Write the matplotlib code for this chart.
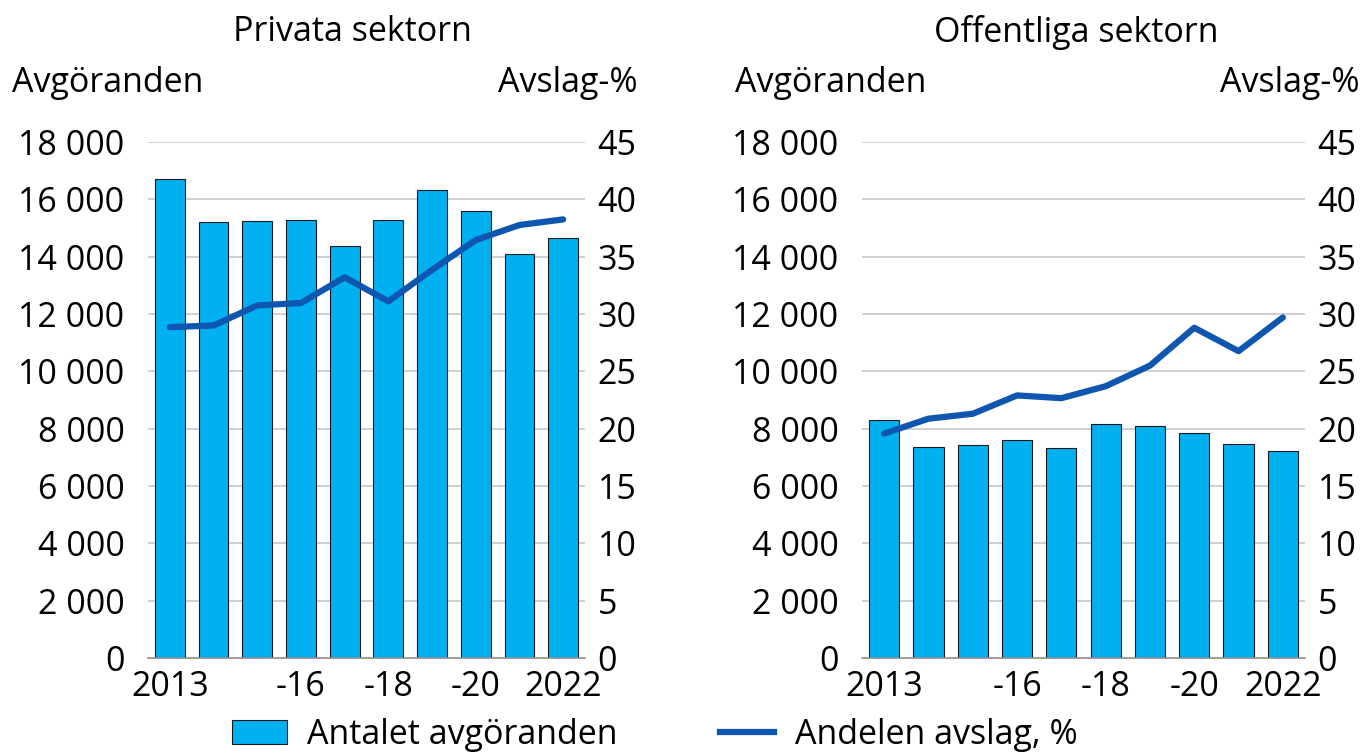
import matplotlib
matplotlib.use("Agg")
import matplotlib.pyplot as plt
from matplotlib.patches import Patch
from matplotlib.lines import Line2D
from matplotlib import font_manager

years = [2013, 2014, 2015, 2016, 2017, 2018, 2019, 2020, 2021, 2022]
xlabels = ["2013", "", "", "-16", "", "-18", "", "-20", "", "2022"]

priv_count = [16700, 15210, 15250, 15290, 14360, 15290, 16310, 15590, 14110, 14650]
priv_share = [28.85, 29.0, 30.75, 30.96, 33.2, 31.1, 33.85, 36.45, 37.76, 38.25]

off_count = [8290, 7365, 7420, 7595, 7330, 8170, 8080, 7860, 7480, 7215]
off_share = [19.57, 20.87, 21.3, 22.9, 22.66, 23.7, 25.5, 28.8, 26.76, 29.7]

left_ticks = [0, 2000, 4000, 6000, 8000, 10000, 12000, 14000, 16000, 18000]
right_ticks = [0, 5, 10, 15, 20, 25, 30, 35, 40, 45]

avail = {f.name for f in font_manager.fontManager.ttflist}
fam = [f for f in ["Open Sans", "DejaVu Sans"] if f in avail]
plt.rcParams["font.family"] = fam

BAR = "#00B0F0"
LINE = "#0E56B0"
FS = 24.5

fig = plt.figure(figsize=(13.64, 7.54), dpi=100)

def fmt(v):
    return f"{v:,}".replace(",", " ")

def panel(left, width, counts, shares, title, title_x, lpad):
    ax = fig.add_axes([left, 1 - 658 / 754, width, (658 - 142) / 754])
    x = list(range(len(years)))
    ax.bar(x, counts, width=0.68, color=BAR, edgecolor="#1a1a1a", linewidth=0.8, zorder=2)
    ax.set_xlim(-0.5, len(years) - 0.5)
    ax.set_ylim(0, 18000)
    ax.set_yticks(left_ticks)
    ax.set_yticklabels([fmt(v) for v in left_ticks], fontsize=FS)
    ax.set_xticks(x)
    ax.set_xticklabels(xlabels, fontsize=FS)
    ax.tick_params(axis="y", length=0, pad=lpad)
    ax.tick_params(axis="x", length=0, pad=9)
    for s in ["top", "left", "right"]:
        ax.spines[s].set_visible(False)
    ax.spines["bottom"].set_color("#8c8c8c")
    ax.spines["bottom"].set_linewidth(1.2)
    for v in left_ticks[1:]:
        ax.axhline(v, color="#c8c8c8", linewidth=1.2, zorder=1)
    ax2 = ax.twinx()
    ax2.plot(x, shares, color=LINE, linewidth=4.5, solid_capstyle="round", zorder=3)
    ax2.set_ylim(0, 45)
    ax2.set_yticks(right_ticks)
    ax2.set_yticklabels([str(v) for v in right_ticks], fontsize=FS)
    ax2.tick_params(length=0, pad=9)
    for s in ["top", "left", "right", "bottom"]:
        ax2.spines[s].set_visible(False)
    fig.text(title_x, 1 - 32 / 754, title, fontsize=FS, ha="center", va="center")
    return ax

panel(148 / 1364, 437 / 1364, priv_count, priv_share, "Privata sektorn", 352 / 1364, 17)
panel(862 / 1364, 443 / 1364, off_count, off_share, "Offentliga sektorn", 1076 / 1364, 17)

fig.text(12 / 1364, 1 - 83 / 754, "Avgöranden", fontsize=FS, ha="left", va="center")
fig.text(638 / 1364, 1 - 83 / 754, "Avslag-%", fontsize=FS, ha="right", va="center")
fig.text(735 / 1364, 1 - 83 / 754, "Avgöranden", fontsize=FS, ha="left", va="center")
fig.text(1360 / 1364, 1 - 83 / 754, "Avslag-%", fontsize=FS, ha="right", va="center")

handles = [Patch(facecolor=BAR, edgecolor="#1a1a1a", linewidth=0.8),
           Line2D([0], [0], color=LINE, linewidth=4.5)]
fig.legend(handles, ["Antalet avgöranden", "Andelen avslag, %"],
           loc="center", bbox_to_anchor=(655 / 1364, 1 - 735 / 754), ncol=2,
           frameon=False, fontsize=FS, columnspacing=3.0, handlelength=1.6,
           handletextpad=0.6, borderpad=0)

fig.savefig("out.png", dpi=100)
